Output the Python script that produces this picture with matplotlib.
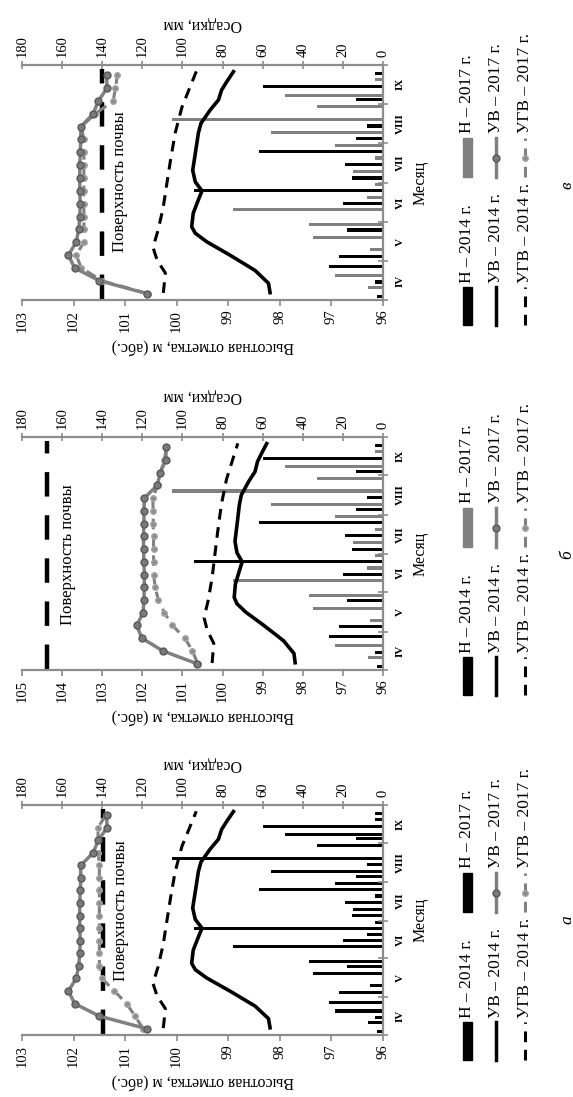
import matplotlib
matplotlib.use('Agg')
import matplotlib.pyplot as plt
from matplotlib.lines import Line2D
from matplotlib.patches import Rectangle

plt.rcParams['font.family'] = ['Liberation Serif', 'DejaVu Serif']

# time axis: days counted from 1 April
months = ['IV', 'V', 'VI', 'VII', 'VIII', 'IX']
month_edges = [0, 30, 61, 91, 122, 153, 183]

# precipitation, mm (same station for all panels)
rain14_day = [3, 14, 26, 34, 54.5, 75, 85, 95, 105.5, 115.5, 126, 135.5, 156, 166, 176.5]
rain14_mm = [3, 4, 27, 22, 18, 20, 94, 15.5, 19, 62, 13.5, 8, 13.5, 60, 4]
rain17_day = [8, 17.5, 37.5, 47, 57, 69, 78.5, 88, 98.5, 109, 119, 128.5, 139, 149, 158, 170]
rain17_mm = [7.5, 24, 6.5, 35, 37, 75, 8, 4, 15, 4, 24, 56, 105, 33, 49, 4]

# water level 2014 (УВ) and ground water level 2014 (УГВ), m abs.
uv14_day = [5.7, 13, 23, 35, 45.4, 52, 57, 67.5, 78, 85, 92, 101, 114, 130, 137.6, 148, 155.8, 163.5, 170, 177.8]
uv14 = [98.19, 98.22, 98.48, 98.97, 99.42, 99.64, 99.71, 99.68, 99.58, 99.51, 99.64, 99.69, 99.64, 99.58,
        99.53, 99.35, 99.19, 99.13, 99.03, 98.9]
ugv14_day = [5.5, 21, 31, 41, 54.5, 72.5, 91, 109, 130, 150, 166, 178]
ugv14 = [100.26, 100.22, 100.38, 100.46, 100.36, 100.26, 100.19, 100.12, 100.03, 99.9, 99.74, 99.62]

# 2017 observations every 10 days
obs17_day = [5, 15, 25, 35, 45, 55, 65, 75, 85, 95, 105, 115, 125, 135, 145, 155, 165, 175]
uv17_a = [100.58, 101.5, 101.98, 102.1, 101.95, 101.9, 101.88, 101.87, 101.88, 101.88, 101.88, 101.87,
          101.86, 101.86, 101.62, 101.52, 101.35, 101.36]
ugv17_a = [100.65, 100.81, 100.97, 101.21, 101.45, 101.5, 101.5, 101.5, 101.5, 101.5, 101.5, 101.5,
           101.5, 101.5, 101.52, 101.52, 101.53, 101.37]
uv17_b = [100.64, 101.49, 102.01, 102.14, 101.98, 101.96, 101.95, 101.95, 101.96, 101.97, 101.97, 101.96,
          101.96, 101.95, 101.63, 101.55, 101.42, 101.4]
ugv17_b = [100.62, 100.75, 100.94, 101.25, 101.45, 101.6, 101.68, 101.72, 101.72, 101.72, 101.72, 101.73,
           101.73, 101.74, 101.62, 101.55, 101.45, 101.4]
uv17_v = uv17_a
ugv17_v = [100.56, 101.45, 101.85, 101.95, 101.8, 101.8, 101.8, 101.8, 101.8, 101.8, 101.8, 101.8,
           101.8, 101.85, 101.58, 101.23, 101.19, 101.15]

soil_a, soil_b, soil_v = 101.43, 104.38, 101.45

GRAY = '#808080'
AXC = '#8c8c8c'
W, H = 573, 1097
fig = plt.figure(figsize=(W / 100, H / 100), dpi=100)


def fx(x):
    return x / W


def fy(y):
    return 1 - y / H


def legend(B, bar17_color):
    cols = [467, 496, 525]
    rows = [(B + 25, B - 13, B - 17), (B - 123, B - 162, B - 167)]
    fs = 12.5
    # rainfall keys
    for (y0, y1, ty), col, lab in zip(rows, ['black', bar17_color], ['Н – 2014 г.', 'Н – 2017 г.']):
        fig.patches.append(Rectangle((fx(cols[0] - 4.5), fy(y0)), 9 / W, (y0 - y1) / H,
                                     transform=fig.transFigure, color=col))
        fig.text(fx(cols[0]), fy(ty), lab, rotation=90, ha='center', va='bottom', fontsize=fs)
    # level keys
    y0, y1, ty = rows[0]
    fig.lines.append(Line2D([fx(cols[1])] * 2, [fy(y0), fy(y1)], transform=fig.transFigure,
                            color='black', lw=2.5))
    fig.text(fx(cols[1]), fy(ty), 'УВ – 2014 г.', rotation=90, ha='center', va='bottom', fontsize=fs)
    fig.lines.append(Line2D([fx(cols[2])] * 2, [fy(y0), fy(y1)], transform=fig.transFigure,
                            color='black', lw=2.2, dashes=(3.5, 2.5)))
    fig.text(fx(cols[2]), fy(ty), 'УГВ – 2014 г.', rotation=90, ha='center', va='bottom', fontsize=fs)
    y0, y1, ty = rows[1]
    fig.lines.append(Line2D([fx(cols[1])] * 3, [fy(y0), fy((y0 + y1) / 2), fy(y1)], transform=fig.transFigure,
                            color=GRAY, lw=2.5, marker='o', markevery=[1], ms=5,
                            mfc='#7a7a7a', mec='#595959'))
    fig.text(fx(cols[1]), fy(ty), 'УВ – 2017 г.', rotation=90, ha='center', va='bottom', fontsize=fs)
    fig.lines.append(Line2D([fx(cols[2])] * 3, [fy(y0), fy((y0 + y1) / 2), fy(y1)], transform=fig.transFigure,
                            color=GRAY, lw=2.2, dashes=(3.5, 2.5), marker='o', markevery=[1], ms=4,
                            mfc='#8c8c8c', mec='#a6a6a6'))
    fig.text(fx(cols[2]), fy(ty), 'УГВ – 2017 г.', rotation=90, ha='center', va='bottom', fontsize=fs)


def panel(T, B, emax, uv17, ugv17, soil, soil_txt, bar17_color, letter):
    ax = fig.add_axes([fx(22), fy(B), fx(383 - 22), (B - T) / H])
    ax2 = ax.twiny()
    ax.set_zorder(ax2.get_zorder() + 1)
    ax.patch.set_visible(False)

    # rainfall bars, growing from 0 at the right
    ax2.barh(rain14_day, rain14_mm, height=2.4, color='black', linewidth=0)
    ax2.barh([d + 1.6 for d in rain17_day], rain17_mm, height=2.4, color=bar17_color, linewidth=0)
    ax2.set_xlim(180, 0)
    ax2.set_xticks(range(0, 181, 20))

    # levels
    ax.vlines(soil, 1, 180, color='black', lw=3.2, linestyles=(0, (5.5, 4.2)))
    ax.text(soil_txt[0], soil_txt[1], 'Поверхность почвы', rotation=90, ha='center', va='center',
            fontsize=12)
    ax.plot(ugv14, ugv14_day, color='black', lw=2.2, dashes=(3.5, 2.5))
    ax.plot(uv14, uv14_day, color='black', lw=2.6)
    ax.plot(ugv17, obs17_day, color=GRAY, lw=2.2, dashes=(3.5, 2.5), marker='o', ms=4,
            mfc='#8c8c8c', mec='#a6a6a6')
    ax.plot(uv17, obs17_day, color=GRAY, lw=2.5, marker='o', ms=5, mfc='#7a7a7a', mec='#595959')

    ax.set_xlim(emax, 96)
    ax.set_xticks(range(96, emax + 1))
    ax.set_ylim(0, 183)

    # month axis on the right
    ax.yaxis.tick_right()
    ax.set_yticks(month_edges)
    ax.set_yticklabels([])
    ax.set_yticks([(a + b) / 2 for a, b in zip(month_edges[:-1], month_edges[1:])], minor=True)
    ax.set_yticklabels(months, minor=True, fontweight='bold', fontsize=8, rotation=90, va='center')
    ax.tick_params(axis='y', which='major', direction='inout', length=7, color=AXC, width=1.2)
    ax.tick_params(axis='y', which='minor', length=0, pad=9)
    ax.yaxis.set_label_position('right')
    ax.set_ylabel('Месяц', rotation=90, fontsize=11.5, labelpad=6)

    for s in ['left', 'top']:
        ax.spines[s].set_visible(False)
    for s in ['left', 'right', 'bottom']:
        ax2.spines[s].set_visible(False)
    for sp in [ax.spines['bottom'], ax.spines['right'], ax2.spines['top']]:
        sp.set_color(AXC)
        sp.set_linewidth(1.6)

    ax.tick_params(axis='x', direction='out', length=4, color=AXC, width=1.2, labelsize=10.5,
                   labelrotation=90, pad=3)
    ax2.tick_params(axis='x', direction='inout', length=6, color=AXC, width=1.2, labelsize=10.5,
                    labelrotation=90, pad=3)
    ax.set_xlabel('Высотная отметка, м (абс.)', rotation=180, fontsize=11.5, labelpad=4)
    ax2.set_xlabel('Осадки, мм', rotation=180, fontsize=11.5, labelpad=5)

    legend(B, bar17_color)
    fig.text(fx(567), fy(B - 115), letter, rotation=90, ha='center', va='center', fontsize=12.5,
             style='italic')


panel(65, 300, 103, uv17_v, ugv17_v, soil_v, (101.1, 92), GRAY, 'в')
panel(437, 670, 105, uv17_b, ugv17_b, soil_b, (103.85, 91), GRAY, 'б')
panel(805, 1035, 103, uv17_a, ugv17_a, soil_a, (101.08, 99), 'black', 'а')

fig.savefig('out.png', dpi=100)
